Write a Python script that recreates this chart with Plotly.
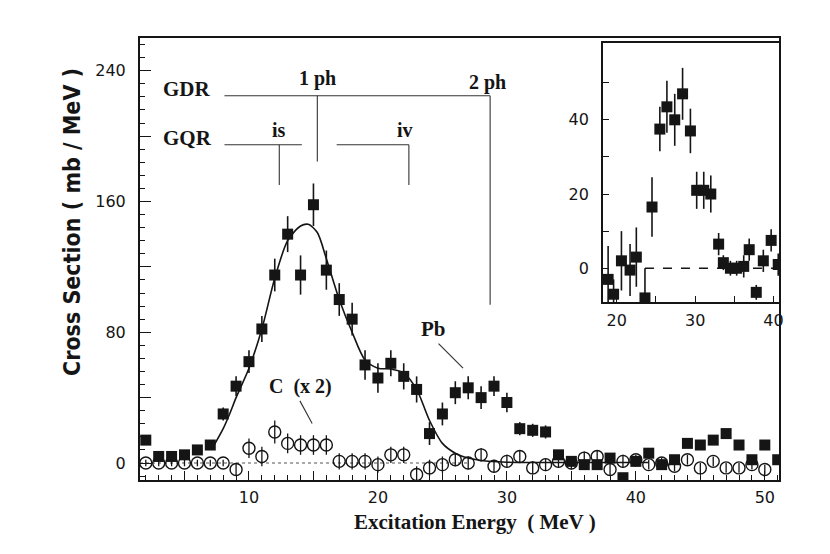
import plotly.graph_objects as go

# Pb data (filled squares), main panel
pb_x = list(range(2, 52))
pb_y = [14, 4, 4, 5, 8, 11, 30, 47, 62, 82,
        115, 140, 115, 158, 118, 100, 88, 60, 52, 61,
        53, 45, 18, 30, 43, 46, 40, 47, 37, 21,
        20, 19, 5, 1, -1, -1, 3, -9, 1, 6,
        -1, 2, 12, 11, 14, 18, 11, 2, 11, 2]
pb_err = [3, 2, 2, 2, 2, 3, 4, 6, 7, 8,
          10, 11, 12, 13, 12, 10, 10, 9, 9, 8,
          8, 8, 7, 7, 7, 7, 7, 6, 6, 4,
          4, 4, 3, 2, 2, 2, 2, 2, 2, 2,
          2, 2, 2, 2, 2, 2, 2, 2, 2, 2]

# C data (x 2), open circles
c_x = list(range(2, 51))
c_y = [0, 0, 0, 0, 0, 0, 0, -4, 9, 4,
       19, 12, 11, 11, 11, 1, 1, 1, -1, 5,
       5, -7, -3, -1, 2, 0, 5, -2, 1, 4,
       -3, -1, 1, 0, 3, 4, -4, 1, 2, -1,
       0, -2, 2, -3, 1, -3, -3, -1, -4]
c_err = [2, 2, 2, 2, 2, 2, 2, 4, 6, 6,
         7, 6, 6, 6, 6, 5, 5, 5, 5, 5,
         5, 5, 5, 5, 4, 4, 4, 4, 4, 4,
         4, 4, 4, 4, 4, 4, 4, 4, 3, 3,
         3, 3, 3, 3, 3, 3, 3, 3, 3]

# fitted curve
fit_x = [7.3, 8, 8.5, 9, 10, 11, 12, 13, 14, 14.6, 15.3, 16, 17, 18, 19,
         20, 21, 22, 23, 24, 25, 26, 27, 28, 30, 34, 41]
fit_y = [11, 21, 30, 40, 58, 82, 113, 136, 145, 146, 141, 125, 100, 80, 63,
         58, 57.5, 55, 45, 26, 12, 6, 3, 1.5, 0.5, 0.3, 0.3]

# inset data
in_x = [18.9, 19.6, 20.6, 21.7, 22.5, 23.6, 24.5, 25.5, 26.4, 27.4, 28.4, 29.4,
        30.2, 31.1, 32.0, 33.0, 33.6, 34.5, 35.3, 36.2, 36.9, 37.8, 38.7, 39.7, 40.6]
in_y = [-3, -7, 2, -0.5, 3, -8, 16.5, 37.5, 43.5, 40, 47, 37,
        21, 21, 20, 6.5, 1.5, 0, 0, 0.5, 5, -6.5, 2, 7.5, 1]
in_err = [9, 4, 8, 7, 8, 8, 8, 6, 7, 7, 7, 6,
          5, 5, 5, 3, 2, 2, 2, 3, 3, 2, 3, 3, 3]

ink = "#151515"
serif = "Liberation Serif"
sans = "DejaVu Sans"
narrow = "Liberation Sans Narrow, DejaVu Sans Condensed, Arial Narrow, sans-serif"

fig = go.Figure()

fig.add_trace(go.Scatter(x=[1.55, 27], y=[0, 0], mode="lines",
                         line=dict(color="#555", width=1.2, dash="dot"),
                         hoverinfo="skip", showlegend=False))
fig.add_trace(go.Scatter(x=fit_x, y=fit_y, mode="lines",
                         line=dict(color=ink, width=1.6, shape="spline", smoothing=0.8),
                         showlegend=False))
fig.add_trace(go.Scatter(x=c_x, y=c_y, mode="markers",
                         marker=dict(symbol="circle-open", size=12, color=ink,
                                     line=dict(width=1.4, color=ink)),
                         error_y=dict(type="data", array=c_err, width=0,
                                      thickness=1.3, color=ink),
                         showlegend=False))
fig.add_trace(go.Scatter(x=pb_x, y=pb_y, mode="markers",
                         marker=dict(symbol="square", size=11, color=ink),
                         error_y=dict(type="data", array=pb_err, width=0,
                                      thickness=1.6, color=ink),
                         showlegend=False))

# inset
fig.add_trace(go.Scatter(x=[23.6, 40.7], y=[0, 0], mode="lines",
                         line=dict(color=ink, width=1.3, dash="dash"),
                         xaxis="x2", yaxis="y2", showlegend=False))
fig.add_trace(go.Scatter(x=in_x, y=in_y, mode="markers",
                         marker=dict(symbol="square", size=11, color=ink),
                         error_y=dict(type="data", array=in_err, width=0,
                                      thickness=1.6, color=ink),
                         xaxis="x2", yaxis="y2", showlegend=False))

# GDR / GQR markers
line_st = dict(color="#333", width=1.1)
shapes = [
    dict(type="line", x0=8.1, x1=28.7, y0=224.7, y1=224.7, line=line_st),
    dict(type="line", x0=15.3, x1=15.3, y0=224.7, y1=184.5, line=line_st),
    dict(type="line", x0=28.7, x1=28.7, y0=224.7, y1=96.8, line=line_st),
    dict(type="line", x0=8.1, x1=14.1, y0=194.7, y1=194.7, line=line_st),
    dict(type="line", x0=12.35, x1=12.35, y0=194.7, y1=170, line=line_st),
    dict(type="line", x0=16.8, x1=22.4, y0=194.7, y1=194.7, line=line_st),
    dict(type="line", x0=22.4, x1=22.4, y0=194.7, y1=170, line=line_st),
    dict(type="line", x0=24.7, x1=26.6, y0=73, y1=58, line=line_st),
    dict(type="line", x0=13.95, x1=14.9, y0=38, y1=24.2, line=line_st),
]

lab = dict(family=serif, size=21, color=ink)
lab2 = dict(family=serif, size=20, color=ink)
annotations = [
    dict(x=3.2, y=229, text="<b>GDR</b>", xanchor="left", font=lab),
    dict(x=3.2, y=199, text="<b>GQR</b>", xanchor="left", font=lab),
    dict(x=15.35, y=235, text="<b>1 ph</b>", font=lab2),
    dict(x=28.5, y=233, text="<b>2 ph</b>", font=lab2),
    dict(x=12.3, y=204, text="<b>is</b>", font=lab2),
    dict(x=22.1, y=204, text="<b>iv</b>", font=lab2),
    dict(x=24.3, y=82, text="<b>Pb</b>", font=lab),
    dict(x=14.0, y=47, text="<b>C  (x 2)</b>", font=lab2),
    dict(x=0.5243, y=-0.094, xref="paper", yref="paper",
         text="<b>Excitation Energy  ( MeV )</b>", font=lab),
    dict(x=-0.1064, y=0.5837, xref="paper", yref="paper",
         text="<b>Cross Section ( mb / MeV )</b>",
         textangle=-90, font=dict(family=narrow, size=23, color=ink)),
]
for a in annotations:
    a.setdefault("showarrow", False)
    a.setdefault("xref", "x")
    a.setdefault("yref", "y")
    a.setdefault("xanchor", "center")
    a.setdefault("yanchor", "middle")

axis_common = dict(showgrid=False, zeroline=False, showline=True, linecolor=ink,
                   linewidth=2, mirror=True, ticks="inside", tickcolor=ink,
                   tickfont=dict(family=sans, size=16, color=ink))

fig.update_layout(
    width=830, height=554,
    margin=dict(l=132, r=59, t=30, b=82),
    paper_bgcolor="white", plot_bgcolor="white",
    shapes=shapes, annotations=annotations,
    xaxis=dict(range=[1.55, 51.1], tickvals=[5, 10, 15, 20, 25, 30, 35, 40, 45, 50],
               ticktext=["", "10", "", "20", "", "30", "", "40", "", "50"],
               ticklen=9, tickwidth=1.3, ticklabelstandoff=2,
               minor=dict(dtick=1, ticklen=5, ticks="inside", tickcolor=ink, tickwidth=1),
               **axis_common),
    yaxis=dict(range=[-10.4, 260], tickvals=[0, 40, 80, 120, 160, 200, 240],
               ticktext=["0", "", "80", "", "160", "", "240"],
               ticklen=11, tickwidth=1.3, ticklabelstandoff=9,
               minor=dict(dtick=8, ticklen=5, ticks="inside", tickcolor=ink, tickwidth=1),
               **axis_common),
    xaxis2=dict(domain=[0.7246, 1.0], anchor="y2", range=[18.25, 40.7],
                tickvals=[20, 25, 30, 35, 40], ticktext=["20", "", "30", "", "40"],
                ticklen=6, tickwidth=1.2, ticklabelstandoff=3, **axis_common),
    yaxis2=dict(domain=[0.4027, 0.9887], anchor="x2", range=[-9.1, 60.7],
                tickvals=[0, 10, 20, 30, 40, 50], ticktext=["0", "", "20", "", "40", ""],
                ticklen=6, tickwidth=1.2, ticklabelstandoff=9, **axis_common),
)

fig.write_html("out.html")
